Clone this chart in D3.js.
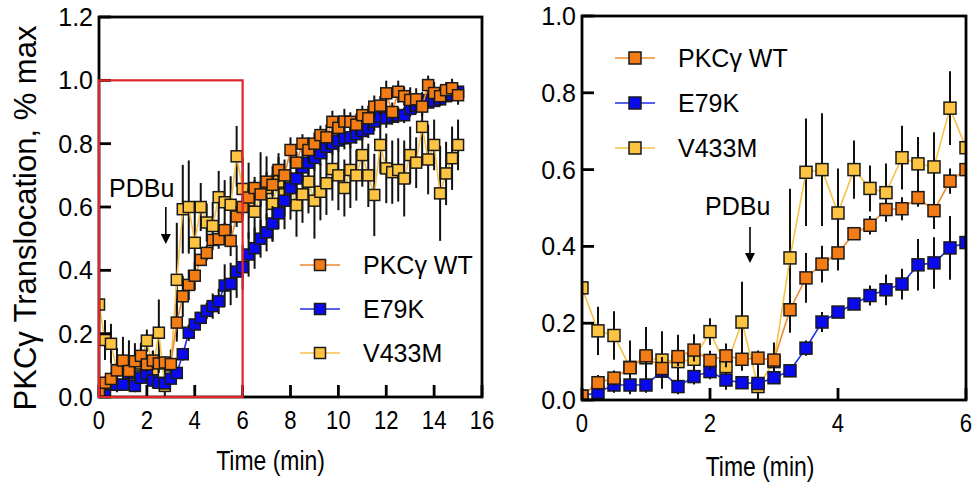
<!DOCTYPE html>
<html><head><meta charset="utf-8">
<script src="https://cdn.jsdelivr.net/npm/d3@7"></script>
<style>
body{margin:0;background:#fff}
svg{display:block}
text{font-family:"Liberation Sans",Arial,Helvetica,sans-serif;fill:#000}
</style>
</head><body>
<svg id="chart" width="979" height="489"></svg>
<script>
// ---------------- DATA ----------------
const time = [0,0.25,0.5,0.75,1,1.25,1.5,1.75,2,2.25,2.5,2.75,3,3.25,3.5,3.75,4,4.25,4.5,4.75,5,5.25,5.5,5.75,6,
  6.25,6.5,6.75,7,7.25,7.5,7.75,8,8.25,8.5,8.75,9,9.25,9.5,9.75,10,10.25,10.5,10.75,11,11.25,11.5,11.75,12,
  12.25,12.5,12.75,13,13.25,13.5,13.75,14,14.25,14.5,14.75,15];

const wtValues = [0.01,0.045,0.057,0.084,0.115,0.082,0.113,0.13,0.103,0.115,0.106,0.109,0.104,0.235,0.318,0.354,0.383,0.433,0.455,0.496,0.498,0.527,0.493,0.570,0.60,
  0.63,0.66,0.64,0.68,0.67,0.717,0.70,0.78,0.74,0.80,0.78,0.80,0.827,0.82,0.869,0.85,0.87,0.869,0.86,0.89,0.88,0.917,0.92,0.959,0.90,0.964,0.95,0.938,0.94,0.917,0.985,0.96,0.95,0.969,0.975,0.953];
const wtErr = [0.01,0.02,0.02,0.025,0.03,0.03,0.025,0.03,0.025,0.03,0.03,0.02,0.02,0.06,0.065,0.048,0.046,0.015,0.024,0.02,0.03,0.024,0.048,0.033,0.03,
  0.03,0.035,0.04,0.03,0.035,0.04,0.03,0.04,0.035,0.03,0.04,0.035,0.03,0.04,0.035,0.03,0.04,0.03,0.035,0.03,0.04,0.035,0.03,0.04,0.03,0.035,0.03,0.04,0.035,0.03,0.03,0.035,0.03,0.025,0.03,0.03];

const e79kValues = [0.01,0.02,0.039,0.039,0.039,0.075,0.035,0.061,0.074,0.052,0.045,0.043,0.058,0.076,0.135,0.203,0.229,0.25,0.272,0.287,0.302,0.352,0.357,0.396,0.41,
  0.45,0.47,0.50,0.52,0.548,0.58,0.62,0.66,0.69,0.725,0.74,0.755,0.77,0.79,0.80,0.81,0.817,0.82,0.83,0.84,0.848,0.87,0.885,0.88,0.885,0.89,0.89,0.91,0.92,0.938,0.93,0.935,0.94,0.95,0.955,0.964];
const e79kErr = [0.01,0.015,0.02,0.02,0.02,0.02,0.02,0.02,0.02,0.02,0.015,0.015,0.015,0.015,0.02,0.026,0.01,0.01,0.026,0.04,0.04,0.067,0.067,0.083,0.07,
  0.07,0.065,0.06,0.06,0.055,0.05,0.05,0.05,0.045,0.045,0.04,0.04,0.04,0.04,0.035,0.035,0.035,0.035,0.03,0.03,0.03,0.03,0.03,0.03,0.025,0.025,0.025,0.025,0.025,0.025,0.02,0.02,0.02,0.02,0.02,0.02];

const v433mValues = [0.292,0.18,0.168,0.085,0.11,0.104,0.10,0.106,0.178,0.087,0.203,0.035,0.10,0.37,0.593,0.60,0.487,0.60,0.551,0.54,0.631,0.615,0.607,0.76,0.657,
  0.62,0.585,0.643,0.66,0.61,0.68,0.64,0.66,0.606,0.64,0.68,0.62,0.648,0.675,0.72,0.70,0.66,0.717,0.70,0.764,0.70,0.638,0.796,0.722,0.71,0.717,0.69,0.764,0.74,0.853,0.75,0.796,0.643,0.706,0.754,0.796];
const v433mErr = [0,0.063,0.063,0.07,0.08,0.075,0.07,0.065,0.035,0.06,0.105,0.07,0.05,0.18,0.14,0.147,0.116,0.076,0.06,0.076,0.083,0.07,0.09,0.096,0.1,
  0.12,0.1,0.13,0.1,0.12,0.09,0.11,0.1,0.1,0.09,0.1,0.12,0.09,0.1,0.1,0.11,0.09,0.12,0.08,0.1,0.1,0.13,0.09,0.11,0.1,0.1,0.12,0.09,0.08,0.1,0.11,0.08,0.15,0.1,0.1,0.08];

const seriesNames = ["PKCγ WT","E79K","V433M"];
const leftXTicks = [0,2,4,6,8,10,12,14,16];
const leftYTicks = [0,0.2,0.4,0.6,0.8,1.0,1.2];
const rightXTicks = [0,2,4,6];
const rightYTicks = [0,0.2,0.4,0.6,0.8,1.0];
const xTitle = "Time (min)";
const yTitle = "PKCγ Translocation, % max";
const stimulusLabel = "PDBu";
const stimulusTime = 2.75;
const zoomWindow = [0, 6, 0, 1.0];

// ---------------- STYLE ----------------
const colors = {fill:["#f47c14","#0a0af0","#fcc440"], line:["#f08a2c","#1e2ee6","#f6c24a"]};
const series = [
  {name:seriesNames[0], v:wtValues, e:wtErr, ci:0},
  {name:seriesNames[1], v:e79kValues, e:e79kErr, ci:1},
  {name:seriesNames[2], v:v433mValues, e:v433mErr, ci:2}
];
const drawOrder = [2,1,0];

const svg = d3.select("#chart");
const fmt = d3.format(".1f");

function panel(cfg){
  const x = d3.scaleLinear().domain(cfg.xDomain).range([cfg.x0,cfg.x1]);
  const y = d3.scaleLinear().domain(cfg.yDomain).range([cfg.y0,cfg.y1]);
  const g = svg.append("g");
  const clipId = "clip"+cfg.id;
  svg.append("clipPath").attr("id",clipId).append("rect")
    .attr("x",cfg.x0).attr("y",cfg.y1).attr("width",cfg.x1-cfg.x0).attr("height",cfg.y0-cfg.y1);
  const dg = g.append("g").attr("clip-path",`url(#${clipId})`);
  const ms = cfg.ms;
  drawOrder.forEach(si=>{
    const s = series[si];
    const pts = time.map((t,i)=>({t, v:s.v[i], e:s.e[i]}));
    const sg = dg.append("g");
    sg.selectAll("line.err").data(pts.filter(p=>p.e>0)).join("line")
      .attr("x1",p=>x(p.t)).attr("x2",p=>x(p.t))
      .attr("y1",p=>y(p.v-p.e)).attr("y2",p=>y(p.v+p.e))
      .attr("stroke","#111").attr("stroke-width",2);
    sg.append("path").datum(pts)
      .attr("d",d3.line().x(p=>x(p.t)).y(p=>y(p.v)))
      .attr("fill","none").attr("stroke",colors.line[s.ci]).attr("stroke-width",1.6);
    sg.selectAll("rect").data(pts).join("rect")
      .attr("x",p=>x(p.t)-ms/2).attr("y",p=>y(p.v)-ms/2)
      .attr("width",ms).attr("height",ms)
      .attr("fill",colors.fill[s.ci]).attr("stroke","#1a1a1a").attr("stroke-width",1.5);
  });
  // frame
  g.append("rect").attr("x",cfg.x0).attr("y",cfg.y1).attr("width",cfg.x1-cfg.x0).attr("height",cfg.y0-cfg.y1)
    .attr("fill","none").attr("stroke","#000").attr("stroke-width",2.8);
  // x ticks
  cfg.xTicks.forEach(t=>{
    g.append("line").attr("x1",x(t)).attr("x2",x(t)).attr("y1",cfg.y0).attr("y2",cfg.y0-12)
      .attr("stroke","#000").attr("stroke-width",2.8);
    g.append("text").attr("transform",`translate(${x(t)},${cfg.y0+32}) scale(0.85,1)`)
      .attr("text-anchor","middle").attr("font-size",26).text(t);
  });
  cfg.yTicks.forEach(t=>{
    g.append("line").attr("x1",cfg.x0).attr("x2",cfg.x0+12).attr("y1",y(t)).attr("y2",y(t))
      .attr("stroke","#000").attr("stroke-width",2.8);
    g.append("text").attr("x",cfg.x0-6).attr("y",y(t)).attr("dy","0.36em")
      .attr("text-anchor","end").attr("font-size",25).text(fmt(t));
  });
  g.append("text").attr("transform",`translate(${(cfg.x0+cfg.x1)/2 + cfg.xtDx},${cfg.xtY}) scale(0.85,1)`)
    .attr("text-anchor","middle").attr("font-size",27).text(xTitle);
  // PDBu
  const ax = x(stimulusTime)+cfg.arrowDx;
  g.append("text").attr("x",cfg.pdbuX).attr("y",cfg.pdbuY).attr("font-size",25).text(stimulusLabel);
  g.append("line").attr("x1",ax).attr("x2",ax).attr("y1",cfg.arrowY0).attr("y2",cfg.arrowY1-8)
    .attr("stroke","#000").attr("stroke-width",1.6);
  g.append("path").attr("d",`M${ax-5},${cfg.arrowY1-10}L${ax+5},${cfg.arrowY1-10}L${ax},${cfg.arrowY1}Z`).attr("fill","#000");
  // legend
  series.forEach((s,i)=>{
    const ly = cfg.legY + i*cfg.legDy;
    g.append("line").attr("x1",cfg.legX-20).attr("x2",cfg.legX+20).attr("y1",ly).attr("y2",ly)
      .attr("stroke",colors.line[s.ci]).attr("stroke-width",1.6);
    g.append("rect").attr("x",cfg.legX-ms/2).attr("y",ly-ms/2).attr("width",ms).attr("height",ms)
      .attr("fill",colors.fill[s.ci]).attr("stroke","#1a1a1a").attr("stroke-width",1.5);
    g.append("text").attr("x",cfg.legX+43).attr("y",ly).attr("dy","0.36em").attr("font-size",25).text(s.name);
  });
  return {x,y,g};
}

const L = panel({id:"L", xDomain:[0,16], yDomain:[0,1.2], x0:99, x1:482, y0:397, y1:17,
  xTicks:leftXTicks, yTicks:leftYTicks, ms:11, xtY:470, xtDx:-20,
  pdbuX:109, pdbuY:197, arrowDx:1, arrowY0:207, arrowY1:244,
  legX:320, legY:265, legDy:44});
// red zoom box
L.g.append("rect").attr("x",L.x(zoomWindow[0])).attr("y",L.y(zoomWindow[3]))
  .attr("width",L.x(zoomWindow[1])-L.x(zoomWindow[0])).attr("height",L.y(zoomWindow[2])-L.y(zoomWindow[3]))
  .attr("fill","none").attr("stroke","#e0262a").attr("stroke-width",2.2);

panel({id:"R", xDomain:[0,6], yDomain:[0,1.0], x0:582, x1:966, y0:400, y1:16,
  xTicks:rightXTicks, yTicks:rightYTicks, ms:12, xtY:476, xtDx:-14,
  pdbuX:705, pdbuY:215, arrowDx:-8, arrowY0:227, arrowY1:263,
  legX:635, legY:58, legDy:45});

// y title
svg.append("text").attr("transform","translate(36,218) rotate(-90)")
  .attr("text-anchor","middle").attr("font-size",31).text(yTitle);
</script>
</body></html>
